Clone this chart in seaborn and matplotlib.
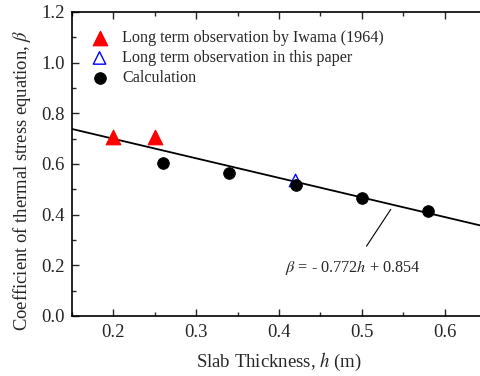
import numpy as np
import pandas as pd
import matplotlib
matplotlib.use("Agg")
import matplotlib.pyplot as plt
import seaborn as sns
from matplotlib.ticker import MultipleLocator

sns.set_style("ticks")
plt.rcParams['font.family'] = ['Liberation Serif', 'DejaVu Serif']
plt.rcParams['mathtext.fontset'] = 'stix'

iwama_h = [0.20, 0.25]
iwama_beta = [0.705, 0.705]
paper_h = [0.42]
paper_beta = [0.535]
calc_h = [0.26, 0.34, 0.42, 0.50, 0.58]
calc_beta = [0.603, 0.564, 0.516, 0.465, 0.413]
slope, intercept = -0.772, 0.854
fit_h = [0.15, 0.65]

fig = plt.figure(figsize=(4.8, 3.76), dpi=100)
ax = fig.add_axes([72/480, 1-316/376, 414/480, 304/376])

fit_df = pd.DataFrame({"h": fit_h, "beta": [slope*h + intercept for h in fit_h]})
sns.lineplot(data=fit_df, x="h", y="beta", ax=ax, color="black", lw=1.3, zorder=1)

sns.scatterplot(x=iwama_h, y=iwama_beta, ax=ax, marker="^", s=110, color="red",
                edgecolor="red", label="Long term observation by Iwama (1964)", zorder=3)
ax.scatter(paper_h, paper_beta, marker="^", s=80, facecolor="none", edgecolor="blue",
           linewidth=1.0, label="Long term observation in this paper", zorder=2)
sns.scatterplot(x=calc_h, y=calc_beta, ax=ax, marker="o", s=70, color="black",
                edgecolor="black", label="Calculation", zorder=4)

ax.annotate(r"$\beta$ = - 0.772$h$ + 0.854", xy=(0.535, 0.421), xytext=(0.489, 0.193),
            ha="center", va="center", fontsize=11.7,
            arrowprops=dict(arrowstyle="-", color="black", lw=0.8, shrinkA=7, shrinkB=0))

ax.set_xlim(0.15, 0.65)
ax.set_ylim(0.0, 1.2)
ax.xaxis.set_major_locator(MultipleLocator(0.1))
ax.xaxis.set_minor_locator(MultipleLocator(0.05))
ax.yaxis.set_major_locator(MultipleLocator(0.2))
ax.yaxis.set_minor_locator(MultipleLocator(0.1))
ax.xaxis.set_major_formatter(matplotlib.ticker.FormatStrFormatter('%.1f'))
ax.yaxis.set_major_formatter(matplotlib.ticker.FormatStrFormatter('%.1f'))
ax.tick_params(which="both", direction="in", top=True, right=False, labelsize=13.5, width=1)
ax.tick_params(which="major", length=5)
ax.tick_params(which="minor", length=3)
ax.tick_params(axis="x", pad=6)
ax.tick_params(axis="y", pad=5)
for s in ["left", "bottom", "top"]:
    ax.spines[s].set_linewidth(1.2)
    ax.spines[s].set_color("black")
ax.spines["right"].set_visible(False)

ax.set_xlabel(r"Slab Thickness, $h$ (m)", fontsize=13.5, labelpad=7)
ax.set_ylabel(r"Coefficient of thermal stress equation, $\beta$", fontsize=13.4)
ax.yaxis.set_label_coords(-0.095, 0.447)

leg = ax.legend(loc="upper left", frameon=False, fontsize=11.6, handletextpad=0.4,
                borderaxespad=0.0, labelspacing=0.26, bbox_to_anchor=(0.012, 0.962))

fig.savefig("out.png", dpi=100)
